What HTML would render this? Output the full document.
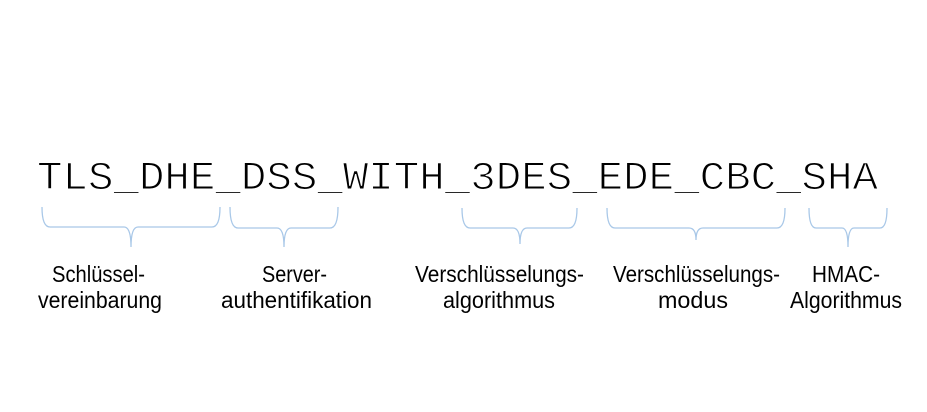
<!DOCTYPE html>
<html><head><meta charset="utf-8"><style>html,body{margin:0;padding:0;background:#fff;}svg{display:block}</style></head>
<body>
<svg width="927" height="412" viewBox="0 0 927 412" xmlns="http://www.w3.org/2000/svg">
<text x="37" y="189" font-family="Liberation Mono, monospace" font-size="40" fill="#000" stroke="#fff" stroke-width="1.1" paint-order="fill" textLength="841" lengthAdjust="spacingAndGlyphs">TLS_DHE_DSS_WITH_3DES_EDE_CBC_SHA</text>
<g fill="none" stroke="#a9c8e8" stroke-width="1.3">
<path d="M42 207 Q42 227 50 227 L124 227 Q131 227 131 247 Q131 227 138 227 L212 227 Q220 227 220 207"/>
<path d="M230 207 Q230 228 238 228 L277 228 Q284 228 284 247 Q284 228 291 228 L330 228 Q338 228 338 207"/>
<path d="M462 208 Q462 228 470 228 L513 228 Q520 228 520 244 Q520 228 527 228 L569 228 Q577 228 577 208"/>
<path d="M607 208 Q607 228 615 228 L689 228 Q696 228 696 240 Q696 228 703 228 L777 228 Q785 228 785 208"/>
<path d="M809 208 Q809 228 816 228 L842 228 Q848 228 848 247 Q848 228 854 228 L880 228 Q887 228 887 208"/>
</g>
<g font-family="Liberation Sans, sans-serif" font-size="23" fill="#000">
<text x="52" y="282" textLength="93" lengthAdjust="spacingAndGlyphs">Schlüssel-</text>
<text x="38" y="308" textLength="124" lengthAdjust="spacingAndGlyphs">vereinbarung</text>
<text x="262" y="282" textLength="65" lengthAdjust="spacingAndGlyphs">Server-</text>
<text x="221" y="308" textLength="151" lengthAdjust="spacingAndGlyphs">authentifikation</text>
<text x="415" y="282" textLength="169" lengthAdjust="spacingAndGlyphs">Verschlüsselungs-</text>
<text x="443" y="308" textLength="112" lengthAdjust="spacingAndGlyphs">algorithmus</text>
<text x="613" y="282" textLength="167" lengthAdjust="spacingAndGlyphs">Verschlüsselungs-</text>
<text x="658" y="308" textLength="70" lengthAdjust="spacingAndGlyphs">modus</text>
<text x="812" y="282" textLength="68" lengthAdjust="spacingAndGlyphs">HMAC-</text>
<text x="790" y="308" textLength="112" lengthAdjust="spacingAndGlyphs">Algorithmus</text>
</g>
</svg>
</body></html>
